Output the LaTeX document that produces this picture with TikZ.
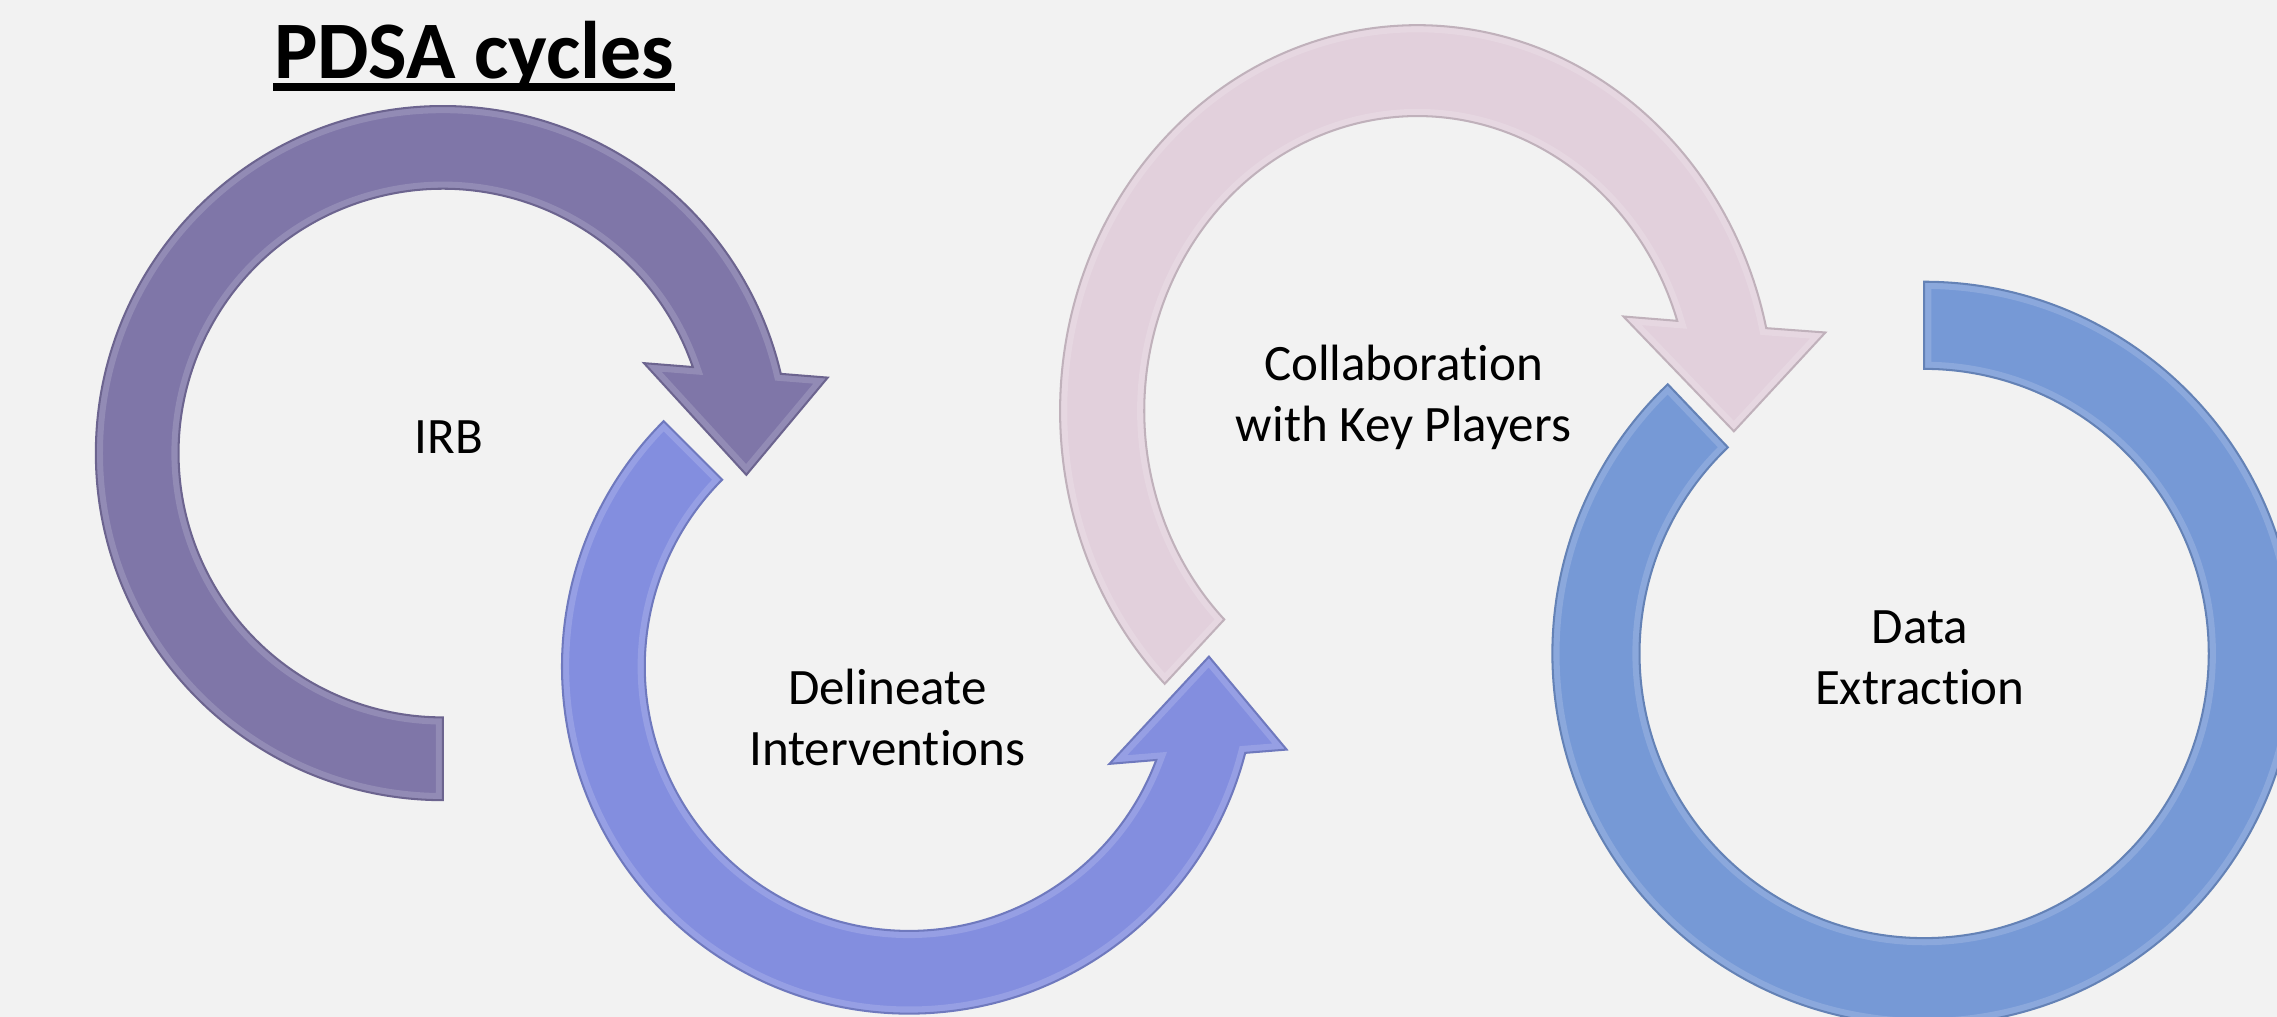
\documentclass[tikz,border=0pt]{standalone}
\usepackage{fontspec}
\setmainfont{Carlito}[Ligatures=NoCommon]

\definecolor{bgcol}{HTML}{F2F2F2}
\definecolor{irbcol}{HTML}{7F76A8}
\definecolor{delincol}{HTML}{838EDF}
\definecolor{collabcol}{HTML}{E2D0DC}
\definecolor{datacol}{HTML}{7699D6}

\tikzset{
  ringedge/.style={draw=#1!85!black, line width=0.4pt, line join=miter},
  ringrim/.style={draw=#1!85!white, line width=2.8pt, line join=miter},
  lbl/.style={font=\fontsize{10}{11.9}\selectfont, align=center, inner sep=0pt}
}

\begin{document}
\begin{tikzpicture}

% Page area
\useasboundingbox (0,0) rectangle (15.68,7);
\fill[bgcol] (0,0) rectangle (15.68,7);
\clip (0,0) rectangle (15.68,7);

% Title
\node[font=\fontsize{16}{19}\selectfont\bfseries, anchor=base, inner sep=0pt] (title) at (3.265,6.46) {PDSA cycles};
\draw[line width=1.7pt] ([yshift=-0.058cm]title.base west) -- ([yshift=-0.058cm]title.base east);

% IRB arrow (tail at the bottom, head on the right)
\coordinate (C1) at (3.05,3.88);
\begin{scope}[shift={(C1)}]
\def\ro{2.39}
\def\ri{1.82}
\def\irbpath{(270:\ro) arc[start angle=270, end angle=13.2, radius=\ro]
  -- (11.1:2.70) -- (-4.1:2.095) -- (24.1:1.517) -- (19:\ri)
  arc[start angle=19, end angle=270, radius=\ri] -- cycle}
\fill[irbcol] \irbpath;
\begin{scope}
\clip \irbpath;
\draw[ringrim=irbcol] \irbpath;
\end{scope}
\draw[ringedge=irbcol] \irbpath;
\end{scope}

% Delineate arrow (tail upper left, head pointing up)
\coordinate (C2) at (6.26,2.41);
\begin{scope}[shift={(C2)}]
\def\ro{2.39}
\def\ri{1.82}
\def\delinpath{(135:\ro) arc[start angle=135, end angle=345.6, radius=\ro]
  -- (347.6:2.662) -- (1.9:2.066) -- (334.1:1.534) -- (339.3:\ri)
  arc[start angle=339.3, end angle=135, radius=\ri] -- cycle}
\fill[delincol] \delinpath;
\begin{scope}
\clip \delinpath;
\draw[ringrim=delincol] \delinpath;
\end{scope}
\draw[ringedge=delincol] \delinpath;
\end{scope}

% Collaboration arrow, a bit taller than wide
\coordinate (C3) at (9.76,4.17);
\begin{scope}[shift={(C3)}, yscale=1.08]
\def\ro{2.46}
\def\ri{1.88}
\def\collabpath{(225:\ro) arc[start angle=225, end angle=12.4, radius=\ro]
  -- (10.1:2.854) -- (-3.4:2.184) -- (23:1.542) -- (17.8:\ri)
  arc[start angle=17.8, end angle=225, radius=\ri] -- cycle}
\fill[collabcol] \collabpath;
\begin{scope}
\clip \collabpath;
\draw[ringrim=collabcol] \collabpath;
\end{scope}
\draw[ringedge=collabcol] \collabpath;
\end{scope}

% Data ring, no head
\coordinate (C4) at (13.25,2.50);
\begin{scope}[shift={(C4)}]
\def\ro{2.56}
\def\ri{1.96}
\def\datapath{(90:\ro) arc[start angle=90, end angle=-226.4, radius=\ro]
  -- (-226.4:\ri) arc[start angle=-226.4, end angle=90, radius=\ri] -- cycle}
\fill[datacol] \datapath;
\begin{scope}
\clip \datapath;
\draw[ringrim=datacol] \datapath;
\end{scope}
\draw[ringedge=datacol] \datapath;
\end{scope}

% Labels
\node[lbl, anchor=base] (irb) at (3.09,3.874) {IRB};
\node[lbl] (delin) at (6.11,2.06) {Delineate\\Interventions};
\node[lbl] (collab) at (9.665,4.265) {Collaboration\\with Key Players};
\node[lbl] (data) at (13.22,2.47) {Data\\Extraction};

\end{tikzpicture}
\end{document}
